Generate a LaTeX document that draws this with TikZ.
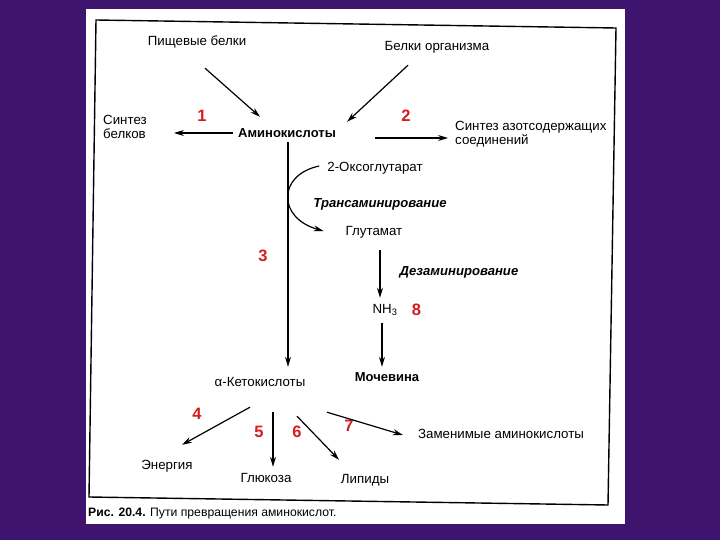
\documentclass[tikz,border=0pt]{standalone}
\usepackage{fontspec}
\setmainfont{Liberation Sans}
\usetikzlibrary{positioning,calc,arrows.meta}
\definecolor{bgpurple}{RGB}{62,20,110}
\definecolor{numred}{RGB}{214,28,28}

\begin{document}
\begin{tikzpicture}[x=1pt,y=-1pt,
% node styles
lbl/.style={inner sep=0pt, text height=9.5pt, text depth=2.5pt, font=\fontsize{13.3}{15}\selectfont},
twoline/.style={inner sep=0pt, align=left, anchor=west, font=\fontsize{13.3}{13.8}\selectfont},
boldlbl/.style={lbl, font=\fontsize{13}{15}\selectfont\bfseries},
proc/.style={lbl, font=\fontsize{13.1}{15}\selectfont\bfseries\itshape},
num/.style={inner sep=0pt, text=numred, font=\fontsize{16.5}{18}\selectfont\bfseries},
arr/.style={-{Stealth[length=10pt,width=6pt]}, line width=1.2pt}
]
\useasboundingbox (0,0) rectangle (720,540);

% slide background and frame
\fill[bgpurple] (0,0) rectangle (720,540);
\fill[white] (86,9) rectangle (625,524);
\draw[line width=1.4pt] (96,20) -- (616,28) -- (608,505) -- (89,497) -- cycle;

% nodes
\node[lbl] (food) at (197,42) {Пищевые белки};
\node[lbl] (body) at (437,47) {Белки организма};
\node[boldlbl] (amino) at (287,134) {Аминокислоты};
\node[twoline] (synprot) at (103,127) {Синтез\\белков};
\node[twoline] (synN) at (455,134) {Синтез азотсодержащих\\соединений};
\node[lbl] (oxo) at (375,168) {2-Оксоглутарат};
\node[proc] (trans) at (380,204) {Трансаминирование};
\node[lbl] (glu) at (374,232) {Глутамат};
\node[proc] (deam) at (459,272) {Дезаминирование};
\node[lbl] (nh3) at (385,310) {NH\textsubscript{3}};
\node[boldlbl] (urea) at (387,378) {Мочевина};
\node[lbl] (keto) at (260,383) {α-Кетокислоты};
\node[lbl] (energy) at (167,466) {Энергия};
\node[lbl] (gluc) at (266,479) {Глюкоза};
\node[lbl] (lip) at (365,480) {Липиды};
\node[lbl] (repl) at (501,435) {Заменимые аминокислоты};
\node[lbl, anchor=west, font=\fontsize{12.2}{14}\selectfont] (caption) at (88,513) {{\bfseries Рис. 20.4.} Пути превращения аминокислот.};

% pathway numbers
\node[num] (n1) at (202,116) {1};
\node[num] (n2) at (406,116) {2};
\node[num] (n3) at (263,256) {3};
\node[num] (n4) at (197,414) {4};
\node[num] (n5) at (259,432) {5};
\node[num] (n6) at (297,432) {6};
\node[num] (n7) at (349,426) {7};
\node[num] (n8) [right=14pt of nh3] {8};

% draw lines between nodes
\draw[arr] ($(food.south)+(8,20)$) -- ($(amino.north)+(-27,-11)$);
\draw[arr] ($(body.south)+(-29,12)$) -- ($(amino.north east)+(11,-6)$);
\draw[arr] ($(amino.west)+(-5,-1)$) -- ($(synprot.east |- amino.west)+(27,-1)$);
\draw[arr] ($(amino.east)+(39,4)$) -- ($(synN.west)+(-7,4)$);
\draw[arr] ($(amino.south)+(1,2)$) -- ($(keto.north -| amino.south)+(1,-10)$);
% transamination loop
\draw[arr] ($(oxo.west)+(-8,-2)$) .. controls +(-42,9) and +(-46,-13) .. ($(glu.west)+(-22,-1)$);
\draw[arr] ($(glu.south)+(6,12)$) -- ($(nh3.north)+(-5,-6)$);
\draw[arr] ($(nh3.south)+(-3,7)$) -- ($(urea.north)+(-5,-5)$);
% fates of keto acids
\draw[arr] ($(keto.south)+(-10,18)$) -- ($(energy.north)+(15,-15)$);
\draw[arr] ($(keto.south)+(13,23)$) -- ($(gluc.north)+(7,-6)$);
\draw[arr] ($(keto.south)+(37,27)$) -- ($(lip.north)+(-26,-14)$);
\draw[arr] ($(keto.south)+(67,23)$) -- ($(repl.west)+(-15,0)$);

\end{tikzpicture}
\end{document}
